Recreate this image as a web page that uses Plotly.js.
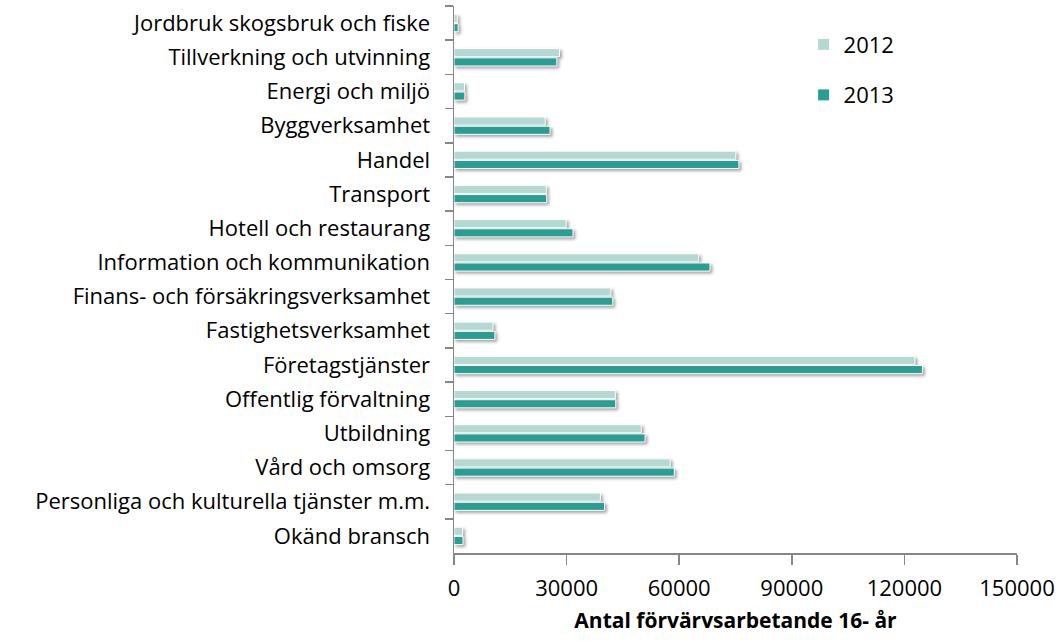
<!DOCTYPE html>
<html>
<head>
<meta charset="utf-8">
<script src="https://cdn.plot.ly/plotly-3.0.1.min.js"></script>
<style>
html,body{margin:0;padding:0;background:#fff;}
#chart{width:1061px;height:641px;}
#chart .barlayer .point path{filter:drop-shadow(2px 2px 1.5px rgba(0,0,0,0.35));}
</style>
</head>
<body>
<div id="chart"></div>
<script>
const categories = [
  "Jordbruk skogsbruk och fiske",
  "Tillverkning och utvinning",
  "Energi och miljö",
  "Byggverksamhet",
  "Handel",
  "Transport",
  "Hotell och restaurang",
  "Information och kommunikation",
  "Finans- och försäkringsverksamhet",
  "Fastighetsverksamhet",
  "Företagstjänster",
  "Offentlig förvaltning",
  "Utbildning",
  "Vård och omsorg",
  "Personliga och kulturella tjänster m.m.",
  "Okänd bransch"
];
const values2012 = [900, 28100, 2800, 24300, 75100, 24600, 29900, 65200, 41800, 10400, 122800, 43000, 49900, 57600, 39000, 2300];
const values2013 = [1100, 27400, 2900, 25600, 75900, 24700, 31700, 68200, 42300, 10900, 124800, 43100, 50900, 58700, 40100, 2400];
const seriesNames = ["2012", "2013"];
const xTicks = [0, 30000, 60000, 90000, 120000, 150000];

const font = "'Open Sans', sans-serif";

const traces = [
  {
    type: "bar", orientation: "h", name: seriesNames[0],
    y: categories, x: values2012, legendgroup: "a",
    marker: {color: "#b5d8d3", line: {color: "#ffffff", width: 1}},
    hoverinfo: "x+y"
  },
  {
    type: "bar", orientation: "h", name: seriesNames[1],
    y: categories, x: values2013, legendgroup: "b",
    marker: {color: "#2a9e92", line: {color: "#ffffff", width: 1}},
    hoverinfo: "x+y"
  }
];

const layout = {
  width: 1061, height: 641,
  margin: {l: 454, r: 44, t: 6, b: 88},
  paper_bgcolor: "#ffffff", plot_bgcolor: "#ffffff",
  barmode: "group", bargap: 0.46, bargroupgap: 0.12,
  font: {family: font, size: 22, color: "#000000"},
  showlegend: true,
  legend: {
    x: 0.621, y: 0.968, xanchor: "left", yanchor: "top",
    traceorder: "grouped", tracegroupgap: 19,
    font: {family: font, size: 22, color: "#000000"},
    itemwidth: 30, bgcolor: "rgba(0,0,0,0)"
  },
  xaxis: {
    range: [0, 150000], tickvals: xTicks, ticktext: xTicks.map(String),
    showgrid: false, zeroline: false,
    showline: true, linecolor: "#868686", linewidth: 1.5,
    ticks: "outside", ticklen: 10, tickcolor: "#868686", tickwidth: 1.5,
    ticklabelstandoff: 5,
    tickfont: {family: font, size: 22, color: "#000000"},
    title: {text: "<b>Antal förvärvsarbetande 16- år</b>", font: {family: font, size: 21, color: "#000000"}, standoff: 12}
  },
  yaxis: {
    type: "category", autorange: "reversed",
    showgrid: false, zeroline: false,
    showline: true, linecolor: "#868686", linewidth: 1.5,
    ticks: "outside", ticklen: 8, tickcolor: "#868686", tickwidth: 1.5,
    tickson: "boundaries",
    ticklabelstandoff: 18,
    tickfont: {family: font, size: 22, color: "#000000"}
  }
};

Plotly.newPlot("chart", traces, layout, {displayModeBar: false, staticPlot: true});
</script>
</body>
</html>
